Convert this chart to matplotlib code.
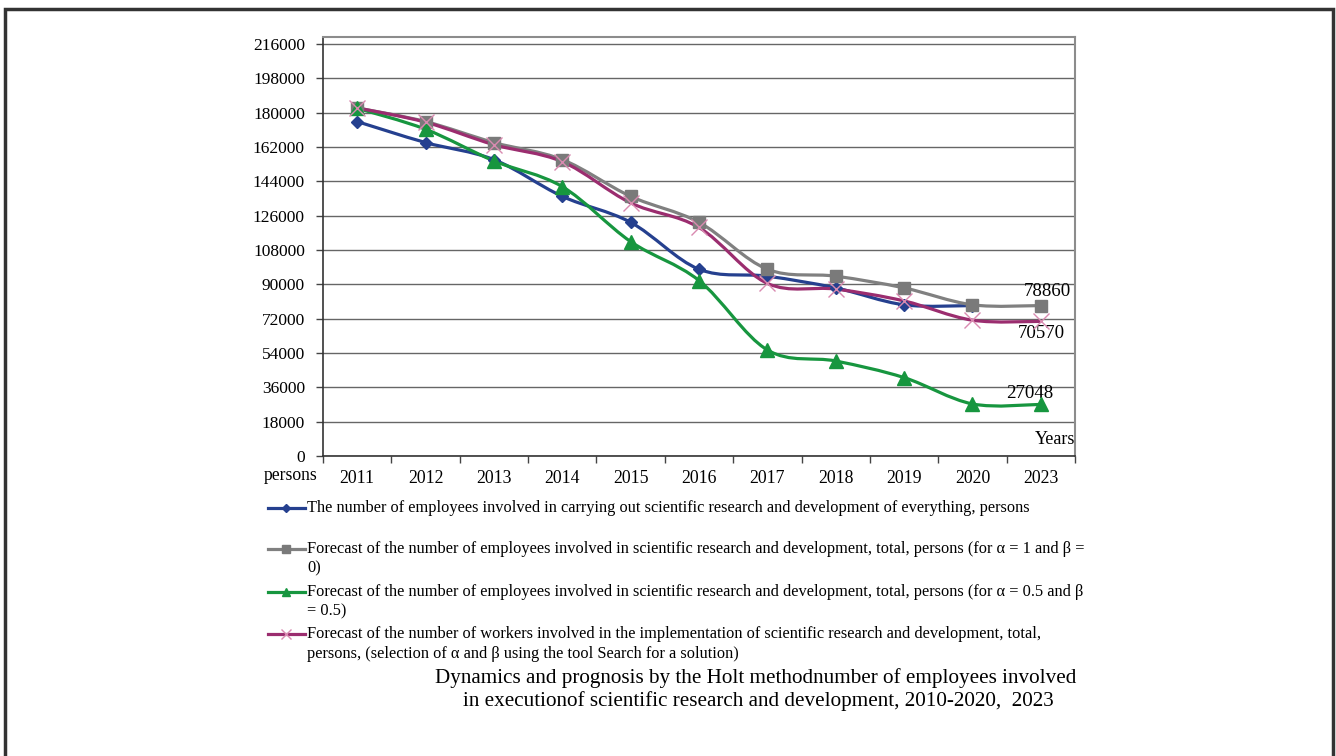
import numpy as np
import matplotlib
matplotlib.use("Agg")
import matplotlib.pyplot as plt
from matplotlib.path import Path
from matplotlib.patches import PathPatch, Rectangle
from matplotlib.lines import Line2D

plt.rcParams['font.family'] = ['Liberation Serif', 'DejaVu Serif']

years = ['2011', '2012', '2013', '2014', '2015', '2016', '2017', '2018', '2019', '2020', '2023']

# actual number of R&D employees (no value for 2023)
actual = [175330, 164340, 155386, 136123, 122504, 97912, 94274, 88128, 79262, 78860]
# Holt forecasts
holt_a1_b0 = [182484, 175330, 164340, 155386, 136123, 122504, 97912, 94274, 88128, 79262, 78860]
holt_a05_b05 = [182300, 171300, 154700, 141200, 112400, 92000, 55600, 49800, 41100, 27300, 27048]
holt_solver = [182500, 175000, 163200, 154300, 132700, 119800, 90500, 87500, 81300, 71200, 70570]

labels = [
    ['The number of employees involved in carrying out scientific research and development of everything, persons'],
    ['Forecast of the number of employees involved in scientific research and development, total, persons (for \u03b1 = 1 and \u03b2 =',
     '0)'],
    ['Forecast of the number of employees involved in scientific research and development, total, persons (for \u03b1 = 0.5 and \u03b2',
     '= 0.5)'],
    ['Forecast of the number of workers involved in the implementation of scientific research and development, total,',
     'persons, (selection of \u03b1 and \u03b2 using the tool Search for a solution)'],
]

y_ticks = list(range(0, 216001, 18000))


def smooth_path(xs, ys):
    # bezier segments like a spreadsheet "smoothed line"
    px = np.asarray(xs, dtype=float)
    py = np.asarray(ys, dtype=float)
    n = len(px)
    verts = [(px[0], py[0])]
    codes = [Path.MOVETO]
    for i in range(n - 1):
        i0 = max(i - 1, 0)
        i3 = min(i + 2, n - 1)
        c1 = (px[i] + (px[i + 1] - px[i0]) / 6, py[i] + (py[i + 1] - py[i0]) / 6)
        c2 = (px[i + 1] - (px[i3] - px[i]) / 6, py[i + 1] - (py[i3] - py[i]) / 6)
        verts += [c1, c2, (px[i + 1], py[i + 1])]
        codes += [Path.CURVE4] * 3
    return Path(verts, codes)


series = [
    (actual, '#25408F', dict(marker='D', markersize=6.5, markerfacecolor='#25408F', markeredgecolor='#25408F')),
    (holt_a1_b0, '#808080', dict(marker='s', markersize=9, markerfacecolor='#7A7A7A', markeredgecolor='#7A7A7A')),
    (holt_a05_b05, '#17963F', dict(marker='^', markersize=9.5, markerfacecolor='#17963F', markeredgecolor='#17963F')),
    (holt_solver, '#9B2D6F', dict(marker='x', markersize=12, markeredgecolor='#D98AB0', markeredgewidth=1.0)),
]

fig = plt.figure(figsize=(13.36, 7.56), dpi=100)
ax = fig.add_axes([323 / 1336, 1 - 456 / 756, 752 / 1336, 419 / 756])

ymax = 216000 + 7 / (412 / 216000)
for vals, color, mk in series:
    x = np.arange(len(vals))
    ax.add_patch(PathPatch(smooth_path(x, vals), facecolor='none', edgecolor=color,
                           linewidth=2.3, zorder=3))
    ax.plot(x, vals, linestyle='none', zorder=4, **mk)

ax.set_xlim(-0.5, len(years) - 0.5)
ax.set_ylim(0, ymax)
ax.set_yticks(y_ticks)
ax.set_yticklabels([str(v) for v in y_ticks], fontsize=12.5)
ax.set_xticks(np.arange(len(years)))
ax.set_xticklabels(years, fontsize=12.8)
ax.set_xticks(np.arange(len(years) + 1) - 0.5, minor=True)
ax.tick_params(axis='x', which='major', length=0, pad=10)
ax.tick_params(axis='x', which='minor', length=5, width=1, color='#444444', direction='out')
ax.tick_params(axis='y', length=5, width=1, color='#444444', direction='out', pad=8)
ax.grid(axis='y', color='#666666', linewidth=1)
ax.set_axisbelow(True)
for side in ['top', 'right']:
    ax.spines[side].set_color('#8C8C8C')
    ax.spines[side].set_linewidth(1.5)
for side in ['left', 'bottom']:
    ax.spines[side].set_color('#333333')
    ax.spines[side].set_linewidth(1.2)

# end-of-forecast values
ax.annotate(f'{holt_a1_b0[-1]}', (10, holt_a1_b0[-1]), xytext=(10.1, holt_a1_b0[-1] + 7500),
            fontsize=13.6, ha='center', va='center')
ax.annotate(f'{holt_solver[-1]}', (10, holt_solver[-1]), xytext=(10.0, holt_solver[-1] - 6500),
            fontsize=13.6, ha='center', va='center')
ax.annotate(f'{holt_a05_b05[-1]}', (10, holt_a05_b05[-1]), xytext=(9.84, holt_a05_b05[-1] + 5500),
            fontsize=13.6, ha='center', va='center')

fig.text(1075 / 1336, 1 - 439 / 756, 'Years', fontsize=13, ha='right', va='center')
fig.text(291 / 1336, 1 - 476 / 756, 'persons', fontsize=12.7, ha='center', va='center')

# legend drawn below the axes
rows = [508, 549, 592, 634]
for (vals, color, mk), lines, yy in zip(series, labels, rows):
    yf = 1 - yy / 756
    fig.add_artist(Line2D([268 / 1336, 305 / 1336], [yf, yf], color=color, linewidth=2.3))
    mk_small = dict(mk)
    mk_small['markersize'] = mk['markersize'] * 0.6
    fig.add_artist(Line2D([286 / 1336], [yf], linestyle='none', **mk_small))
    for k, line in enumerate(lines):
        fig.text(307 / 1336, 1 - (yy + k * 19.5) / 756, line, fontsize=11.8,
                 ha='left', va='center')

fig.text(756 / 1336, 1 - 678 / 756,
         'Dynamics and prognosis by the Holt methodnumber of employees involved',
         fontsize=15.2, ha='center', va='center')
fig.text(758 / 1336, 1 - 701 / 756,
         'in executionof scientific research and development, 2010-2020,  2023',
         fontsize=15.2, ha='center', va='center')

# page frame
fig.add_artist(Rectangle((5 / 1336, -0.05), 1328 / 1336, 1.05 - 9 / 756,
                         transform=fig.transFigure, fill=False,
                         edgecolor='#333333', linewidth=2.5, clip_on=False))

plt.savefig('out.png', dpi=100, facecolor='white')
